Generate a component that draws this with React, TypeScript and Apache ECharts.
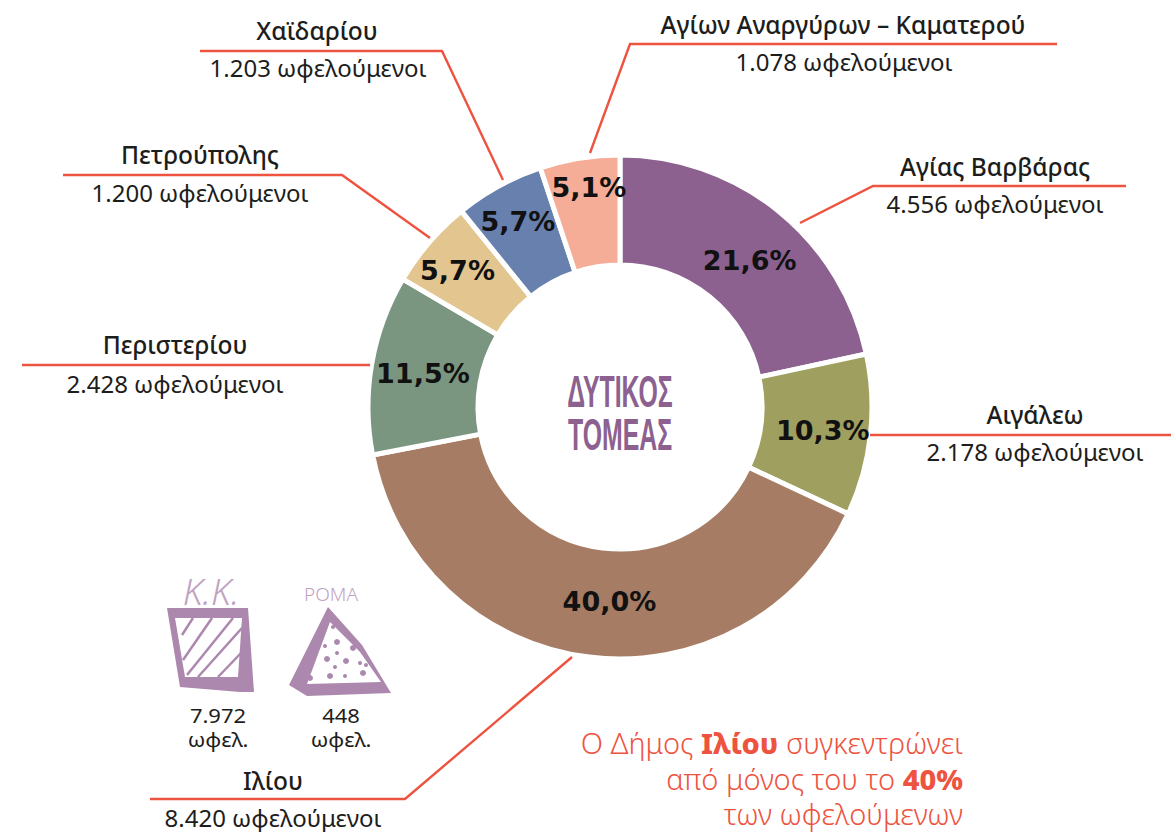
import React, { useEffect, useRef } from "react";
import * as echarts from "echarts";

const municipalities = ["Αγίας Βαρβάρας", "Αιγάλεω", "Ιλίου", "Περιστερίου", "Πετρούπολης", "Χαϊδαρίου", "Αγίων Αναργύρων – Καματερού"];
const beneficiaries = [4556, 2178, 8420, 2428, 1200, 1203, 1078];
const beneficiaryLabels = ["4.556", "2.178", "8.420", "2.428", "1.200", "1.203", "1.078"];
const sliceColors = ["#8C618F", "#9FA060", "#A67D64", "#7B9680", "#E3C58F", "#6880AE", "#F5AD98"];
const labelShift = [[4, 9], [4, 1], [14, -4], [0, 0], [-11, -6], [-6, -10], [1, -22]];

const RED = "#EE5340";
const INK = "#1d1d1b";
const ICON = "#AC88AE";
const FONT = "'Noto Sans', sans-serif";

const leaders = [
  [[1126, 186], [873, 186], [800, 223]],
  [[1171, 435], [870, 435]],
  [[150, 799], [405, 799], [572, 657]],
  [[22, 365], [370, 365]],
  [[63, 175], [342, 175], [430, 238]],
  [[200, 51], [442, 51], [503, 180]],
  [[1057, 44], [630, 44], [590, 153]],
];
const nameAt = [[995, 166], [1035, 414], [273, 780], [175, 344], [200, 154], [317, 30], [843, 24]];
const countAt = [[995, 203], [1035, 451], [273, 817], [175, 383], [200, 192], [318, 67], [844, 61]];

const hatch = [
  [[193, 618], [182, 635]], [[212, 618], [183, 660]], [[233, 618], [187, 675]],
  [[242, 628], [198, 677]], [[242, 652], [218, 677]],
];
const dots = [
  [333, 627, 2], [347, 634, 2], [337, 642, 3], [325, 646, 2], [353, 648, 3], [337, 653, 2],
  [327, 659, 3], [312, 658, 3], [346, 661, 3], [360, 663, 2], [366, 665, 2], [335, 667, 2],
  [363, 673, 3], [330, 676, 3], [345, 676, 2], [310, 678, 3],
];

const total = beneficiaries.reduce((a, b) => a + b, 0);

const centred = (text: string, x: number, y: number, size: number, weight: number | string = 400, fill = INK, lineHeight?: number, scaleX = 1) => ({
  type: "text", x, y, scaleX,
  style: { text, fill, font: `${weight} ${size}px ${FONT}`, textAlign: "center", textVerticalAlign: "middle", lineHeight },
});

export default function App() {
  const ref = useRef<HTMLDivElement>(null);
  useEffect(() => {
    document.body.style.margin = "0";
    const chart = echarts.init(ref.current!, null, { renderer: "svg" });
    const callouts: any[] = [];
    municipalities.forEach((name, i) => {
      callouts.push({
        type: "polyline", shape: { points: leaders[i] },
        style: { stroke: RED, lineWidth: 2.4, fill: "none" }, z: 5,
      });
      callouts.push(centred(name, nameAt[i][0], nameAt[i][1], 24.5, 500));
      callouts.push(centred(`${beneficiaryLabels[i]} ωφελούμενοι`, countAt[i][0], countAt[i][1], 24));
    });
    const icons: any[] = [
      { type: "polygon", shape: { points: [[167, 608], [248, 608], [254, 692], [240, 692], [180, 687]] }, style: { fill: ICON } },
      { type: "polygon", shape: { points: [[175, 618], [242, 618], [238, 677], [185, 677]] }, style: { fill: "#fff" } },
      ...hatch.map((h) => ({ type: "polyline", shape: { points: h }, style: { stroke: ICON, lineWidth: 2.5, fill: "none" } })),
      { type: "polygon", shape: { points: [[328, 607], [362, 645], [391, 693], [307, 696], [289, 685]] }, style: { fill: ICON } },
      { type: "polygon", shape: { points: [[330, 622], [360, 652], [381, 682], [307, 684]] }, style: { fill: "#fff" } },
      ...dots.map((d) => ({ type: "circle", shape: { cx: d[0], cy: d[1], r: d[2] }, style: { fill: ICON } })),
      { type: "text", x: 211, y: 591, style: { text: "Κ.Κ.", fill: "#BFA2C1", font: `italic 300 36px ${FONT}`, textAlign: "center", textVerticalAlign: "middle" } },
      centred("ΡΟΜΑ", 331, 594, 19, 300, "#BFA2C1"),
      centred("7.972\nωφελ.", 218, 727, 20, 400, INK, 24, 1.1),
      centred("448\nωφελ.", 341, 727, 20, 400, INK, 24, 1.1),
    ];
    const titleText = (text: string, y: number) => ({
      type: "text", x: 620, y, scaleX: 0.565,
      style: {
        text, fill: "#8C618F", font: "bold 44px 'Liberation Sans Narrow', 'Liberation Sans', sans-serif",
        textAlign: "center", textVerticalAlign: "middle",
      },
    });
    const noteRich = {
      l: { fill: RED, font: `300 29px ${FONT}`, lineHeight: 37 },
      b: { fill: RED, font: `800 29px ${FONT}`, lineHeight: 37 },
    };
    const note = (text: string, y: number) => ({
      type: "text", x: 963, y,
      style: { text, rich: noteRich, textAlign: "right", textVerticalAlign: "middle" },
    });
    chart.setOption({
      animation: false,
      series: [{
        type: "pie",
        center: [620, 407],
        radius: [142, 252],
        startAngle: 90,
        silent: true,
        itemStyle: { borderColor: "#fff", borderWidth: 5 },
        label: {
          position: "inside",
          color: "#111",
          fontFamily: "'DejaVu Sans', sans-serif", fontSize: 27, fontWeight: 700,
          formatter: (p: any) => `${((p.value / total) * 100).toFixed(1).replace(".", ",")}%`,
        },
        labelLine: { show: false },
        labelLayout: (p: any) => ({ dx: labelShift[p.dataIndex][0], dy: labelShift[p.dataIndex][1] }),
        data: municipalities.map((name, i) => ({
          name, value: beneficiaries[i], itemStyle: { color: sliceColors[i] },
        })),
      }],
      graphic: [
        { type: "group", silent: true, children: [
          ...callouts, ...icons,
          titleText("ΔΥΤΙΚΟΣ", 392), titleText("ΤΟΜΕΑΣ", 435),
          note("{l|Ο Δήμος }{b|Ιλίου}{l| συγκεντρώνει}", 742),
          note("{l|από μόνος του το }{b|40%}", 778),
          note("{l|των ωφελούμενων}", 813.5),
        ] },
      ],
    });
    return () => chart.dispose();
  }, []);
  return <div ref={ref} style={{ position: "fixed", left: 0, top: 0, width: 1176, height: 832, background: "#fff" }} />;
}
